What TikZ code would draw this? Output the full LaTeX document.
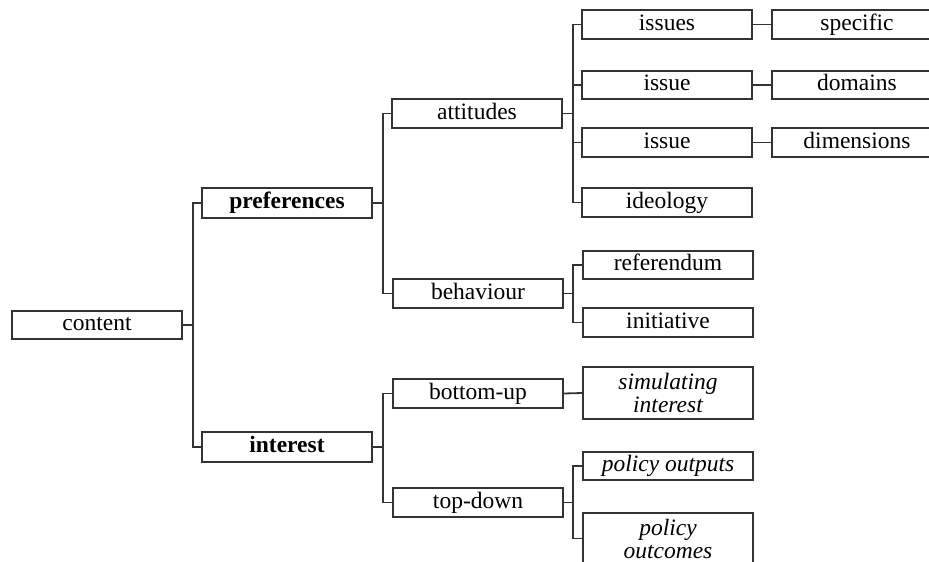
\documentclass[tikz,border=0pt]{standalone}
\usepackage{fontspec}
\setmainfont{Liberation Serif}
\begin{document}
\begin{tikzpicture}[x=1pt,y=-1pt,
  box/.style={draw=black!80, line width=1.8pt, rectangle, inner sep=0pt,
    minimum width=170pt, minimum height=29pt, align=center,
    text height=16pt, text depth=5pt,
    font=\fontsize{23.5}{23}\selectfont},
  tallbox/.style={box, text height=, text depth=},
  link/.style={draw=black!80, line width=1.8pt}]
\clip (0,0) rectangle (929,562);
% level 0
\node[box, minimum height=28pt] (content) at (97,325) {content};
% level 1
\node[box, minimum height=30pt] (pref) at (287,203) {\textbf{preferences}};
\node[box, minimum height=30pt] (inter) at (287,447) {\textbf{interest}};
% level 2
\node[box] (att) at (477,113.5) {attitudes};
\node[box] (beh) at (478,293.5) {behaviour};
\node[box] (bup) at (478,393.5) {bottom-up};
\node[box] (tdn) at (478,502.5) {top-down};
% level 3
\node[box] (iss) at (667,24.5) {issues};
\node[box, minimum height=28pt] (isd) at (667,85) {issue};
\node[box] (isdim) at (667,142.5) {issue};
\node[box] (ideo) at (667,202.5) {ideology};
\node[box, minimum height=28pt] (ref) at (668,265) {referendum};
\node[box] (ini) at (668,322.5) {initiative};
\node[tallbox, minimum height=52pt] (sim) at (668,393) {\itshape simulating\\\itshape interest};
\node[box, minimum height=28pt] (pout) at (668,466) {\itshape policy outputs};
\node[tallbox, minimum height=51pt] (pcome) at (668,538.5) {\itshape policy\\\itshape outcomes};
% level 4
\node[box] (spec) at (857,24.5) {specific};
\node[box, minimum height=28pt] (dom) at (857,85) {domains};
\node[box] (dim) at (857,142.5) {dimensions};
% connectors
\foreach \c in {pref,inter} \path[link] (content.east) -- ++(10,0) |- (\c.west);
\foreach \c in {att,beh} \path[link] (pref.east) -- ++(10,0) |- (\c.west);
\foreach \c in {bup,tdn} \path[link] (inter.east) -- ++(10,0) |- (\c.west);
\foreach \c in {iss,isd,isdim,ideo} \path[link] (att.east) -- ++(10,0) |- (\c.west);
\foreach \c in {ref,ini} \path[link] (beh.east) -- ++(9,0) |- (\c.west);
\foreach \c in {pout,pcome} \path[link] (tdn.east) -- ++(9,0) |- (\c.west);
\path[link] (bup.east) -- (sim.west);
\path[link] (iss.east) -- (spec.west);
\path[link] (isd.east) -- (dom.west);
\path[link] (isdim.east) -- (dim.west);
\end{tikzpicture}
\end{document}
